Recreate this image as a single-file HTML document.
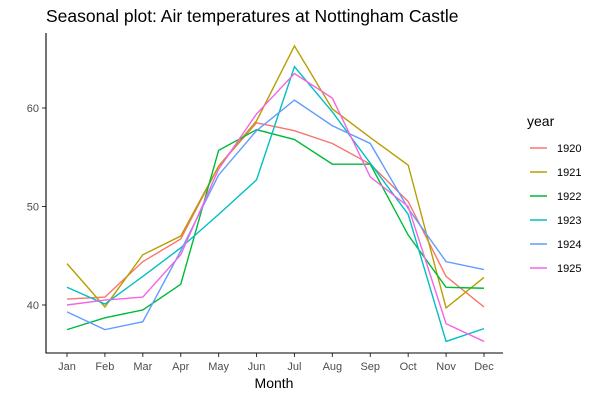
<!DOCTYPE html>
<html><head><meta charset="utf-8"><style>
body{margin:0;background:#fff;font-family:"Liberation Sans",sans-serif}
</style></head><body>
<svg id="c" width="600" height="400" xmlns="http://www.w3.org/2000/svg">
<rect width="600" height="400" fill="#fff"/>
<text x="46" y="22" font-size="17.5" fill="#000">Seasonal plot: Air temperatures at Nottingham Castle</text>
<g id="plot"></g>
<line x1="46" y1="33" x2="46" y2="353.5" stroke="#000" stroke-width="1.1"/>
<line x1="45.5" y1="353" x2="503" y2="353" stroke="#000" stroke-width="1.1"/>
<text x="274" y="388" font-size="14" text-anchor="middle">Month</text>
<text x="527" y="126" font-size="14">year</text>
<g id="legend"></g>
</svg>
<script>
const months=["Jan","Feb","Mar","Apr","May","Jun","Jul","Aug","Sep","Oct","Nov","Dec"];
const years=["1920","1921","1922","1923","1924","1925"];
const colors=["#F8766D","#B79F00","#00BA38","#00BFC4","#619CFF","#F564E3"];
const yTicks=[40,50,60];
const v1920=[40.6,40.8,44.4,46.7,54.1,58.5,57.7,56.4,54.3,50.5,42.9,39.8];
const v1921=[44.2,39.8,45.1,47.0,54.1,58.7,66.3,59.9,57.0,54.2,39.7,42.8];
const v1922=[37.5,38.7,39.5,42.1,55.7,57.8,56.8,54.3,54.3,47.1,41.8,41.7];
const v1923=[41.8,40.1,42.9,45.8,49.2,52.7,64.2,59.6,54.4,49.2,36.3,37.6];
const v1924=[39.3,37.5,38.3,45.5,53.2,57.7,60.8,58.2,56.4,49.8,44.4,43.6];
const v1925=[40.0,40.5,40.8,45.1,53.8,59.4,63.5,61.0,53.0,50.0,38.1,36.3];
const series=[v1920,v1921,v1922,v1923,v1924,v1925];
const NS="http://www.w3.org/2000/svg";
const xS=i=>67+i*(484-67)/11;
const yS=v=>305-(v-40)*(305-108)/20;
const plot=document.getElementById('plot');
function mk(t,a,p){const e=document.createElementNS(NS,t);for(const k in a)e.setAttribute(k,a[k]);p.appendChild(e);return e;}
yTicks.forEach(t=>{
 const l=mk('line',{x1:42,x2:46,y1:yS(t),y2:yS(t),stroke:'#333'},plot);
 
 
 const tx=mk('text',{x:39,y:yS(t)+4,'font-size':11,'text-anchor':'end',fill:'#4d4d4d'},plot);tx.textContent=t;
 
 
});
months.forEach((m,i)=>{
 const l=mk('line',{x1:xS(i),x2:xS(i),y1:353,y2:357,stroke:'#333'},plot);
 
 
 const tx=mk('text',{x:xS(i),y:370,'font-size':11,'text-anchor':'middle',fill:'#4d4d4d'},plot);tx.textContent=m;
 
 
});
series.forEach((s,k)=>{
 const p=mk('polyline',{points:s.map((v,i)=>xS(i)+','+yS(v)).join(' '),fill:'none',stroke:colors[k],'stroke-width':1.4},plot);
 
 
});
const lg=document.getElementById('legend');
years.forEach((y,k)=>{
 const cy=148+k*24;
 const l=mk('line',{x1:530,x2:547,y1:cy,y2:cy,stroke:colors[k],'stroke-width':1.4},lg);
 
 
 const t=mk('text',{x:557,y:cy+4,'font-size':11,fill:'#000'},lg);t.textContent=y;
 
 
});
</script>
</body></html>
